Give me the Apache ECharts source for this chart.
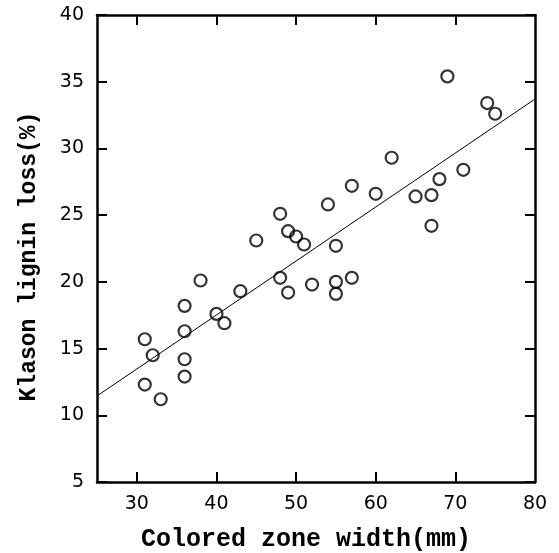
<!DOCTYPE html>
<html>
<head>
<meta charset="utf-8">
<script src="https://cdn.jsdelivr.net/npm/echarts@6/dist/echarts.min.js"></script>
<style>
html,body{margin:0;padding:0;background:#fff;}
#chart{width:559px;height:553px;}
</style>
</head>
<body>
<div id="chart"></div>
<script>
// Colored zone width (mm)
var widthX = [31,31,32,33,36,36,36,36,38,40,41,43,45,48,48,49,49,50,51,52,54,55,55,55,57,57,60,62,65,67,67,68,69,71,74,75];
// Klason lignin loss (%)
var ligninY = [15.7,12.3,14.5,11.2,18.2,16.3,14.2,12.9,20.1,17.6,16.9,19.3,23.1,25.1,20.3,23.8,19.2,23.4,22.8,19.8,25.8,22.7,20.0,19.1,27.2,20.3,26.6,29.3,26.4,26.5,24.2,27.7,35.4,28.4,33.4,32.6];
// regression line end points
var fitX = [25, 80];
var fitY = [11.45, 33.7];
var xTickLabels = [30,40,50,60,70,80];
var xInnerTicks = [30,40,50,60,70];

var points = widthX.map(function(x,i){return [x, ligninY[i]];});
var fitLine = fitX.map(function(x,i){return [x, fitY[i]];});

function axLine(){ return {show:true, onZero:false, lineStyle:{color:'#000', width:2.5}}; }
function ticks(extra){
  var t = {show:true, inside:true, length:10, lineStyle:{color:'#000', width:2}};
  if (extra) t.customValues = extra;
  return t;
}
function labelFont(){ return {color:'#000', fontFamily:'DejaVu Sans', fontSize:19, margin:13}; }

var chart = echarts.init(document.getElementById('chart'), null, {renderer:'canvas'});
chart.setOption({
  animation:false,
  backgroundColor:'#fff',
  grid:{left:97, top:15, right:24, bottom:71, containLabel:false, outerBoundsMode:'none'},
  xAxis:[{
    type:'value', min:25, max:80, position:'bottom',
    name:'Colored zone width(mm)', nameLocation:'middle', nameGap:45,
    nameTextStyle:{color:'#000', fontFamily:'Liberation Mono', fontWeight:'bold', fontSize:25, padding:[0,20,0,0]},
    axisLine:axLine(),
    axisTick:ticks(xInnerTicks),
    axisLabel:Object.assign({customValues:xTickLabels}, labelFont()),
    splitLine:{show:false}
  },{
    type:'value', min:25, max:80, position:'top',
    axisLine:axLine(),
    axisTick:ticks(xInnerTicks),
    axisLabel:{show:false},
    splitLine:{show:false}
  }],
  yAxis:[{
    type:'value', min:5, max:40, interval:5, position:'left',
    name:'Klason lignin loss(%)', nameLocation:'middle', nameGap:56, nameRotate:90,
    nameTextStyle:{color:'#000', fontFamily:'Liberation Mono', fontWeight:'bold', fontSize:23, padding:[0,16,0,0]},
    axisLine:axLine(),
    axisTick:ticks(),
    axisLabel:labelFont(),
    splitLine:{show:false}
  },{
    type:'value', min:5, max:40, interval:5, position:'right',
    axisLine:axLine(),
    axisTick:ticks(),
    axisLabel:{show:false},
    splitLine:{show:false}
  }],
  series:[{
    type:'line', data:fitLine, symbol:'none', silent:true,
    lineStyle:{color:'#000', width:1}
  },{
    type:'scatter', data:points, symbol:'circle', symbolSize:12,
    itemStyle:{color:'rgba(255,255,255,0)', borderColor:'#000', borderWidth:2.2}
  }]
});
</script>
</body>
</html>
